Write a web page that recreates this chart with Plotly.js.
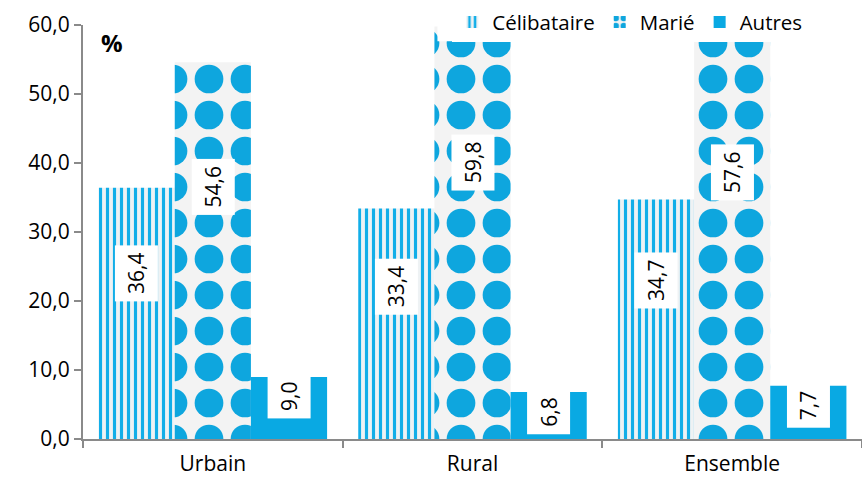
<!DOCTYPE html>
<html>
<head>
<meta charset="utf-8">
<script src="https://cdn.plot.ly/plotly-3.0.1.min.js"></script>
<style>html,body{margin:0;padding:0;background:#fff;}#chart{width:862px;height:492px;}</style>
</head>
<body>
<div id="chart"></div>
<script>
const categories = ["Urbain", "Rural", "Ensemble"];
const seriesNames = ["Célibataire", "Marié", "Autres"];
const celibataire = [36.4, 33.4, 34.7];
const marie = [54.6, 59.8, 57.6];
const autres = [9.0, 6.8, 7.7];
const yTicks = [0, 10, 20, 30, 40, 50, 60];

const FONT = "Open Sans, Lato, sans-serif";
const bargap = 0.12;
const barW = (1 - bargap) / 3;

const traces = [
  {
    type: "bar", name: seriesNames[0], x: categories, y: celibataire,
    marker: { color: "#f4f4f4", line: { width: 0 },
      pattern: { shape: "|", fgcolor: "#12aee8", bgcolor: "#eef2f4", size: 7, solidity: 0.45 } }
  },
  {
    type: "bar", name: seriesNames[1], x: categories, y: marie,
    marker: { color: "#f4f4f4", line: { width: 0 },
      pattern: { shape: ".", fgcolor: "#0ea6de", bgcolor: "#f3f3f3", size: 36, solidity: 0.5 } }
  },
  {
    type: "bar", name: seriesNames[2], x: categories, y: autres,
    marker: { color: "#09a9e3", line: { width: 0 } }
  }
];

const seriesVals = [celibataire, marie, autres];
const labelPos = [
  v => v * 0.66,
  v => v * 0.67,
  v => v - 2.9
];
const annotations = [];
seriesVals.forEach((vals, j) => {
  vals.forEach((v, i) => {
    annotations.push({
      x: i + (j - 1) * barW, y: labelPos[j](v), xref: "x", yref: "y",
      text: v.toFixed(1).replace(".", ","), showarrow: false, textangle: -90,
      bgcolor: "#ffffff", borderpad: 7,
      font: { family: FONT, size: 21, color: "#000" }
    });
  });
});
annotations.push({
  xref: "paper", yref: "paper", x: 0.021, y: 0.958, xanchor: "left", yanchor: "middle",
  text: "<b>%</b>", showarrow: false, font: { family: FONT, size: 24, color: "#000" }
});

const layout = {
  width: 862, height: 492,
  margin: { l: 83, r: 0, t: 25, b: 53 },
  paper_bgcolor: "#fff", plot_bgcolor: "#fff",
  barmode: "group", bargap: bargap, bargroupgap: 0,
  separators: ", ",
  showlegend: true,
  legend: {
    orientation: "h", x: 0.474, xanchor: "left", y: 1.055, yanchor: "top",
    bgcolor: "#ffffff", font: { family: FONT, size: 20.5, color: "#000" },
    traceorder: "normal", itemwidth: 30
  },
  shapes: [{
    type: "rect", xref: "paper", yref: "paper", layer: "above",
    x0: 0.455, x1: 1, y0: 0.961, y1: 1.06,
    fillcolor: "#ffffff", line: { width: 0 }
  }],
  xaxis: {
    type: "category", showgrid: false, zeroline: false,
    showline: true, linecolor: "#8a8a8a", linewidth: 2,
    ticks: "outside", tickson: "boundaries", ticklen: 7, tickwidth: 2, tickcolor: "#8a8a8a",
    ticklabelstandoff: 5,
    tickfont: { family: FONT, size: 21, color: "#000" }
  },
  yaxis: {
    range: [0, 60], tickvals: yTicks, tickformat: ".1f", showgrid: false, zeroline: false,
    showline: true, linecolor: "#8a8a8a", linewidth: 2,
    ticks: "outside", ticklen: 7, tickwidth: 2, tickcolor: "#8a8a8a",
    tickfont: { family: FONT, size: 21, color: "#000" }
  },
  annotations: annotations
};

Plotly.newPlot("chart", traces, layout, { displayModeBar: false, staticPlot: true });
</script>
</body>
</html>
